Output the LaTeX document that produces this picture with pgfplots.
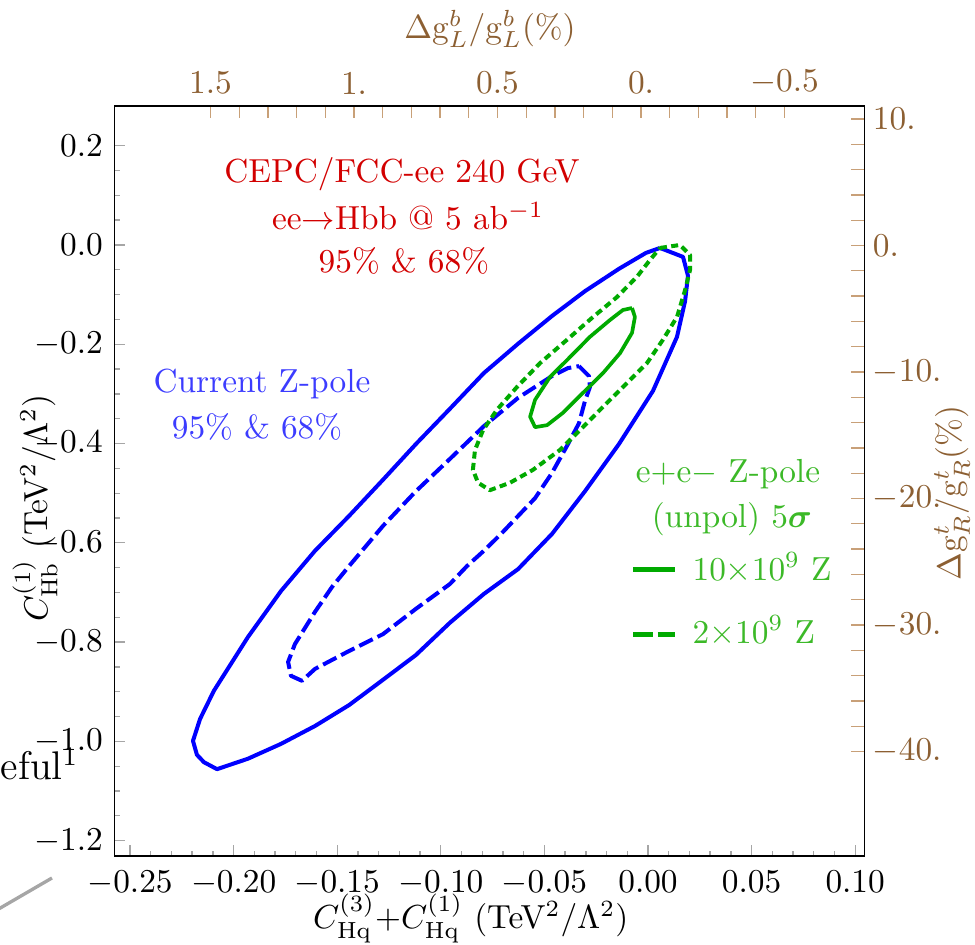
\documentclass[border=0pt]{standalone}
\usepackage{amsmath}
\usepackage{pgfplots}
\pgfplotsset{compat=1.18}
\definecolor{brn}{RGB}{140,95,50}
\definecolor{tickbrn}{RGB}{200,160,120}
\definecolor{zgreen}{RGB}{0,170,0}
\definecolor{tgreen}{RGB}{60,185,40}
\definecolor{tred}{RGB}{210,0,0}
\definecolor{tblue}{RGB}{60,60,255}
\begin{document}
\begin{tikzpicture}
\path[use as bounding box] (-34.35pt,-26.7pt) rectangle (258.15pt,256.8pt);
% top axis
\begin{axis}[at={(0,0)}, anchor=south west, scale only axis, width=225pt, height=225pt,
  xmin=-0.7787, xmax=1.8345, x dir=reverse, ymin=0, ymax=1,
  axis x line*=top, axis y line=none,
  xtick={-0.5,0,0.5,1,1.5}, xticklabels={$-0.5$,0.,0.5,1.,1.5},
  minor x tick num=4, tick align=inside,
  major tick length=3.6pt, minor tick length=3.6pt,
  x tick label style={text=brn},
  xtick style={tickbrn, line width=0.4pt},
  axis line style={black, line width=0.45pt}]
\end{axis}
% right axis
\begin{axis}[at={(0,0)}, anchor=south west, scale only axis, width=225pt, height=225pt,
  ymin=-48.26, ymax=11.028, xmin=0, xmax=1,
  axis y line*=right, axis x line=none,
  ytick={-40,-30,-20,-10,0,10}, yticklabels={$-40.$,$-30.$,$-20.$,$-10.$,0.,10.},
  minor y tick num=4, tick align=inside,
  major tick length=4pt, minor tick length=4pt,
  y tick label style={text=brn, xshift=-1pt},
  ytick style={tickbrn, line width=0.4pt},
  axis line style={black, line width=0.45pt}]
\end{axis}
% main axis
\begin{axis}[at={(0,0)}, anchor=south west, scale only axis, width=225pt, height=225pt,
  xmin=-0.25748, xmax=0.10449, ymin=-1.2309, ymax=0.2800,
  clip=false,
  xtick={-0.25,-0.20,-0.15,-0.10,-0.05,0,0.05,0.10},
  ytick={-1.2,-1.0,-0.8,-0.6,-0.4,-0.2,0,0.2},
  minor x tick num=4, minor y tick num=3,
  scaled x ticks=false, scaled y ticks=false,
  xticklabel style={/pgf/number format/fixed, /pgf/number format/fixed zerofill, /pgf/number format/precision=2, yshift=-1pt},
  yticklabel style={/pgf/number format/fixed, /pgf/number format/fixed zerofill, /pgf/number format/precision=1},
  xtick pos=left, ytick pos=left, tick align=inside,
  major tick length=3.3pt, minor tick length=1.6pt,
  tick style={gray!70, line width=0.4pt},
  axis line style={black, line width=0.45pt}]
% blue outer 95%
\addplot[blue, line width=1.2pt, line join=round] coordinates {
(0.0058,-0.006) (0.0169,-0.024) (0.0193,-0.062) (0.0179,-0.113) (0.0140,-0.185)
(0.0024,-0.294) (-0.0140,-0.401) (-0.0304,-0.496) (-0.0463,-0.582) (-0.0627,-0.653)
(-0.0792,-0.703) (-0.0956,-0.761) (-0.1120,-0.826) (-0.1279,-0.876) (-0.1443,-0.927)
(-0.1607,-0.969) (-0.1771,-1.005) (-0.1931,-1.035) (-0.2080,-1.056) (-0.2143,-1.042)
(-0.2177,-1.027) (-0.2196,-0.999) (-0.2162,-0.955) (-0.2095,-0.898) (-0.1931,-0.790)
(-0.1771,-0.697) (-0.1607,-0.616) (-0.1443,-0.546) (-0.1279,-0.473) (-0.1120,-0.401)
(-0.0956,-0.330) (-0.0792,-0.258) (-0.0627,-0.199) (-0.0463,-0.143) (-0.0304,-0.093)
(-0.0140,-0.048) (-0.0010,-0.016) (0.0058,-0.006)};
% blue inner 68% dashed
\addplot[blue, line width=1.2pt, dash pattern=on 4.5pt off 1.6pt, line join=round] coordinates {
(-0.0333,-0.244) (-0.0285,-0.264) (-0.0280,-0.286) (-0.0304,-0.314) (-0.0333,-0.359)
(-0.0386,-0.401) (-0.0463,-0.459) (-0.0545,-0.510) (-0.0627,-0.546) (-0.0709,-0.582)
(-0.0792,-0.616) (-0.0874,-0.647) (-0.0956,-0.683) (-0.1120,-0.733) (-0.1279,-0.784)
(-0.1443,-0.818) (-0.1607,-0.854) (-0.1670,-0.878) (-0.1723,-0.868) (-0.1737,-0.840)
(-0.1704,-0.804) (-0.1607,-0.739) (-0.1525,-0.689) (-0.1443,-0.647) (-0.1279,-0.566)
(-0.1120,-0.496) (-0.0956,-0.431) (-0.0792,-0.365) (-0.0627,-0.308) (-0.0463,-0.264)
(-0.0386,-0.248) (-0.0333,-0.244)};
% green dashed 2e9 Z
\addplot[zgreen, line width=1.2pt, dash pattern=on 2.1pt off 1.3pt, line join=round] coordinates {
(0.0058,-0.006) (0.0154,0.000) (0.0203,-0.020) (0.0203,-0.050) (0.0179,-0.091)
(0.0140,-0.145) (0.0072,-0.191) (-0.0005,-0.238) (-0.0101,-0.278) (-0.0217,-0.326)
(-0.0314,-0.367) (-0.0425,-0.413) (-0.0555,-0.453) (-0.0666,-0.479) (-0.0763,-0.494)
(-0.0820,-0.479) (-0.0845,-0.453) (-0.0835,-0.413) (-0.0796,-0.373) (-0.0729,-0.332)
(-0.0632,-0.286) (-0.0521,-0.238) (-0.0391,-0.191) (-0.0265,-0.145) (-0.0150,-0.105)
(-0.0053,-0.064) (0.0010,-0.030) (0.0058,-0.006)};
% green solid 10e9 Z
\addplot[zgreen, line width=1.1pt, line join=round] coordinates {
(-0.0077,-0.127) (-0.0063,-0.145) (-0.0077,-0.177) (-0.0135,-0.218) (-0.0217,-0.258)
(-0.0314,-0.298) (-0.0410,-0.338) (-0.0487,-0.363) (-0.0545,-0.367) (-0.0569,-0.346)
(-0.0545,-0.312) (-0.0473,-0.266) (-0.0391,-0.232) (-0.0280,-0.185) (-0.0183,-0.151)
(-0.0121,-0.131) (-0.0077,-0.127)};
% legend samples
\addplot[zgreen, line width=1.5pt] coordinates {(-0.0072,-0.6547) (0.0130,-0.6547)};
\addplot[zgreen, line width=1.5pt, dash pattern=on 6pt off 1.4pt] coordinates {(-0.0072,-0.7857) (0.0130,-0.7857)};
% annotations
\node[anchor=base, text=tred, inner sep=0] at (axis cs:-0.1187,0.1249) {CEPC/FCC-ee 240 GeV};
\node[anchor=base, text=tred, inner sep=0] at (axis cs:-0.1158,0.0302) {ee$\to$Hbb @ 5 ab$^{-1}$};
\node[anchor=base, text=tred, inner sep=0] at (axis cs:-0.1178,-0.0564) {95\% \& 68\%};
\node[anchor=base, text=tblue, inner sep=0] at (axis cs:-0.1863,-0.298) {Current Z-pole};
\node[anchor=base, text=tblue, inner sep=0] at (axis cs:-0.1887,-0.389) {95\% \& 68\%};
\node[anchor=base, text=tgreen, inner sep=0] at (axis cs:0.0386,-0.4795) {e+e$-$ Z-pole};
\node[anchor=base, text=tgreen, inner sep=0] at (axis cs:0.0405,-0.570) {(unpol) 5$\boldsymbol{\sigma}$};
\node[anchor=base west, text=tgreen, inner sep=0] at (axis cs:0.0212,-0.675) {10$\times$10$^{9}$ Z};
\node[anchor=base west, text=tgreen, inner sep=0] at (axis cs:0.0212,-0.802) {2$\times$10$^{9}$ Z};
% axis labels
\node[inner sep=0] at (rel axis cs:0.475,-0.0835) {$C^{(3)}_{\mathrm{Hq}}$+$C^{(1)}_{\mathrm{Hq}}$ (TeV$^{2}$/$\Lambda^{2}$)};
\node[rotate=90, inner sep=0] at (rel axis cs:-0.106,0.464) {$C^{(1)}_{\mathrm{Hb}}$ (TeV$^{2}$/$\Lambda^{2}$)};
\node[inner sep=0, text=brn] at (rel axis cs:0.5007,1.1027) {$\Delta\mathrm{g}^{b}_{L}/\mathrm{g}^{b}_{L}$(\%)};
\node[rotate=90, inner sep=0, text=brn] at (rel axis cs:1.1167,0.484) {$\Delta\mathrm{g}^{t}_{R}/\mathrm{g}^{t}_{R}$(\%)};
\end{axis}
\node[anchor=base west, inner sep=0, font=\fontsize{12}{14}\selectfont] at (-34.35pt,22.8pt) {eful$^{1}$};
\draw[gray!70, line width=1pt] (-37.35pt,-17.4pt) -- (-18.75pt,-6.6pt);
\end{tikzpicture}
\end{document}
